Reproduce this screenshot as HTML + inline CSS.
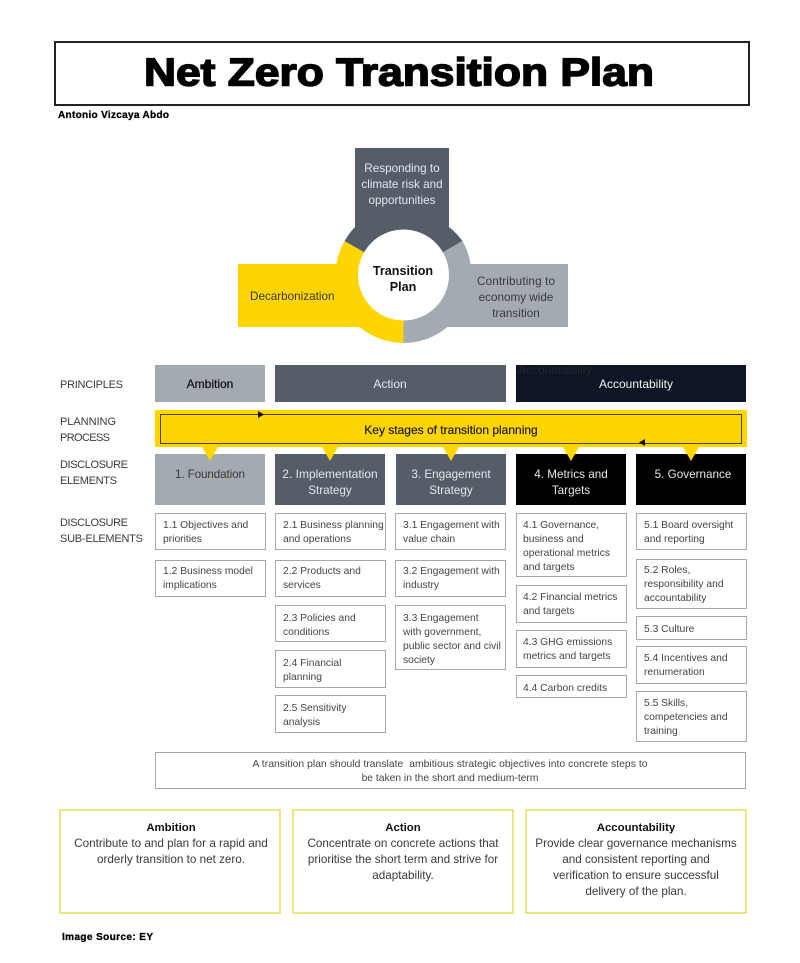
<!DOCTYPE html>
<html><head><meta charset="utf-8"><style>
html,body{margin:0;padding:0;background:#fff}
svg{display:block}
text{font-family:"Liberation Sans",sans-serif;fill:#3a3a3a}
.s{font-size:10.3px;fill:#444}
.m{font-size:11.7px}
.l{font-size:11px}
.c{text-anchor:middle}
.w{fill:#e4e6e9}
.h{font-weight:bold;fill:#111;font-size:11.4px}
.b{fill:#fff;stroke:#a8a8a8;stroke-width:1}
.y{fill:#fff;stroke:#ebe582;stroke-width:2}
.k{font-weight:bold;fill:#000;stroke:#000;stroke-width:.3px}
</style></head><body>
<svg width="800" height="963" viewBox="0 0 800 963" xmlns="http://www.w3.org/2000/svg">
<rect x="55" y="42" width="694" height="63" fill="#fff" stroke="#222" stroke-width="2"/>
<text x="399" y="85.500" class="c k" style="font-size:39px;stroke-width:1.5px" textLength="510" lengthAdjust="spacingAndGlyphs">Net Zero Transition Plan</text>
<text x="58" y="118" class="k" style="font-size:10px" textLength="111">Antonio Vizcaya Abdo</text>

<!-- cycle -->
<rect x="238" y="264" width="165" height="63" fill="#ffd500"/>
<rect x="403" y="264" width="165" height="63" fill="#a4aab1"/>
<path d="M403.5 275 L344.6 241 A68 68 0 0 0 403.5 343 Z" fill="#ffd500"/>
<path d="M403.5 275 L462.4 241 A68 68 0 0 1 403.5 343 Z" fill="#a4aab1"/>
<path d="M403.5 275 L344.6 241 A68 68 0 0 1 355 227 L355 148 L449 148 L449 227 A68 68 0 0 1 462.4 241 Z" fill="#555d69"/>
<circle cx="403.5" cy="275" r="45.5" fill="#fff"/>
<text x="402" y="172" class="m c w">Responding to</text>
<text x="402" y="188" class="m c w">climate risk and</text>
<text x="402" y="204" class="m c w">opportunities</text>
<text x="403" y="275" class="c h" style="font-size:12.6px">Transition</text>
<text x="403" y="291" class="c h" style="font-size:12.6px">Plan</text>
<text x="250" y="300" class="m">Decarbonization</text>
<text x="516" y="285" class="m c" textLength="78">Contributing to</text>
<text x="516" y="301" class="m c">economy wide</text>
<text x="516" y="317" class="m c">transition</text>

<!-- row labels -->
<text x="60" y="388" class="l" textLength="63">PRINCIPLES</text>
<text x="60" y="425" class="l" textLength="56">PLANNING</text>
<text x="60" y="441" class="l" textLength="50">PROCESS</text>
<text x="60" y="468" class="l" textLength="68">DISCLOSURE</text>
<text x="60" y="484" class="l" textLength="57">ELEMENTS</text>
<text x="60" y="526" class="l" textLength="68">DISCLOSURE</text>
<text x="60" y="542" class="l" textLength="83">SUB-ELEMENTS</text>

<!-- principles -->
<rect x="155" y="365" width="110" height="37" fill="#a4aab1"/>
<rect x="275" y="365" width="231" height="37" fill="#555d69"/>
<rect x="516" y="365" width="230" height="37" fill="#0e1525"/>
<text x="518" y="374" style="font-size:12px;fill:#23262e">Accountability</text>
<text x="210" y="388" class="c" style="font-size:12px;fill:#111;stroke:#111;stroke-width:.2px">Ambition</text>
<text x="390" y="388" class="c w" style="font-size:12px">Action</text>
<text x="636" y="388" class="c" style="font-size:12px;fill:#f2f2f2">Accountability</text>

<!-- elements -->
<rect x="155" y="454" width="110" height="51" fill="#a4aab1"/>
<rect x="275" y="454" width="110" height="51" fill="#555d69"/>
<rect x="396" y="454" width="110" height="51" fill="#555d69"/>
<rect x="516" y="454" width="110" height="51" fill="#000"/>
<rect x="636" y="454" width="110" height="51" fill="#000"/>

<!-- band -->
<rect x="155" y="410" width="592" height="37" fill="#ffd500"/>
<rect x="160.500" y="414.500" width="581" height="29" fill="none" stroke="#4a4208" stroke-width="1"/>
<path d="M258 411 L264 414.500 L258 418 Z" fill="#111"/>
<path d="M645 439 L639 442.500 L645 446 Z" fill="#111"/>
<g fill="#ffd500">
<path d="M202 447 L218 447 L210 461 Z"/>
<path d="M322 447 L338 447 L330 461 Z"/>
<path d="M443 447 L459 447 L451 461 Z"/>
<path d="M563 447 L579 447 L571 461 Z"/>
<path d="M683 447 L699 447 L691 461 Z"/>
</g>
<text x="451" y="434" class="c" style="font-size:12px;fill:#1c1a05;stroke:#1c1a05;stroke-width:.2px">Key stages of transition planning</text>

<text x="210" y="478" class="m c" textLength="70">1. Foundation</text>
<text x="330" y="478" class="c w" style="font-size:12px">2. Implementation</text>
<text x="330" y="494" class="m c w">Strategy</text>
<text x="451" y="478" class="m c w">3. Engagement</text>
<text x="451" y="494" class="m c w">Strategy</text>
<text x="571" y="478" class="m c w">4. Metrics and</text>
<text x="571" y="494" class="m c w">Targets</text>
<text x="693" y="478" class="m c w">5. Governance</text>

<!-- sub boxes -->
<rect class="b" x="155.500" y="513.500" width="110" height="36"/>
<rect class="b" x="155.500" y="560.500" width="110" height="36"/>
<rect class="b" x="275.500" y="513.500" width="110" height="36"/>
<rect class="b" x="275.500" y="560.500" width="110" height="36"/>
<rect class="b" x="275.500" y="605.500" width="110" height="36"/>
<rect class="b" x="275.500" y="650.500" width="110" height="37"/>
<rect class="b" x="275.500" y="695.500" width="110" height="37"/>
<rect class="b" x="395.500" y="513.500" width="110" height="36"/>
<rect class="b" x="395.500" y="560.500" width="110" height="36"/>
<rect class="b" x="395.500" y="605.500" width="110" height="64"/>
<rect class="b" x="516.500" y="513.500" width="110" height="63"/>
<rect class="b" x="516.500" y="585.500" width="110" height="37"/>
<rect class="b" x="516.500" y="630.500" width="110" height="37"/>
<rect class="b" x="516.500" y="675.500" width="110" height="22"/>
<rect class="b" x="636.500" y="513.500" width="110" height="36"/>
<rect class="b" x="636.500" y="559.500" width="110" height="49"/>
<rect class="b" x="636.500" y="616.500" width="110" height="23"/>
<rect class="b" x="636.500" y="646.500" width="110" height="37"/>
<rect class="b" x="636.500" y="691.500" width="110" height="50"/>

<text x="163" y="528" class="s">1.1 Objectives and</text>
<text x="163" y="542" class="s">priorities</text>
<text x="163" y="588" class="s">implications</text>
<text x="163" y="574" class="s">1.2 Business model</text>

<text x="283" y="528" class="s">2.1 Business planning</text>
<text x="283" y="542" class="s">and operations</text>
<text x="283" y="574" class="s">2.2 Products and</text>
<text x="283" y="588" class="s">services</text>
<text x="283" y="621" class="s">2.3 Policies and</text>
<text x="283" y="635" class="s">conditions</text>
<text x="283" y="666" class="s">2.4 Financial</text>
<text x="283" y="680" class="s">planning</text>
<text x="283" y="711" class="s">2.5 Sensitivity</text>
<text x="283" y="725" class="s">analysis</text>

<text x="403" y="528" class="s">3.1 Engagement with</text>
<text x="403" y="542" class="s">value chain</text>
<text x="403" y="574" class="s">3.2 Engagement with</text>
<text x="403" y="588" class="s">industry</text>
<text x="403" y="621" class="s">3.3 Engagement</text>
<text x="403" y="635" class="s">with government,</text>
<text x="403" y="649" class="s">public sector and civil</text>
<text x="403" y="663" class="s">society</text>

<text x="523" y="528" class="s">4.1 Governance,</text>
<text x="523" y="542" class="s">business and</text>
<text x="523" y="556" class="s">operational metrics</text>
<text x="523" y="570" class="s">and targets</text>
<text x="523" y="600" class="s">4.2 Financial metrics</text>
<text x="523" y="614" class="s">and targets</text>
<text x="523" y="645" class="s">4.3 GHG emissions</text>
<text x="523" y="659" class="s">metrics and targets</text>
<text x="523" y="691" class="s">4.4 Carbon credits</text>

<text x="644" y="528" class="s">5.1 Board oversight</text>
<text x="644" y="542" class="s">and reporting</text>
<text x="644" y="573" class="s">5.2 Roles,</text>
<text x="644" y="587" class="s">responsibility and</text>
<text x="644" y="601" class="s">accountability</text>
<text x="644" y="632" class="s">5.3 Culture</text>
<text x="644" y="661" class="s">5.4 Incentives and</text>
<text x="644" y="675" class="s">renumeration</text>
<text x="644" y="706" class="s">5.5 Skills,</text>
<text x="644" y="720" class="s">competencies and</text>
<text x="644" y="734" class="s">training</text>

<rect class="b" x="155.500" y="752.500" width="590" height="36"/>
<text x="450" y="767" class="s c" xml:space="preserve" textLength="395">A transition plan should translate  ambitious strategic objectives into concrete steps to</text>
<text x="450" y="781" class="s c">be taken in the short and medium-term</text>

<!-- bottom boxes -->
<rect class="y" x="60" y="810" width="220" height="103"/>
<rect class="y" x="293" y="810" width="220" height="103"/>
<rect class="y" x="526" y="810" width="220" height="103"/>
<text x="171" y="831" class="c h">Ambition</text>
<text x="171" y="847" class="m c">Contribute to and plan for a rapid and</text>
<text x="171" y="863" class="m c">orderly transition to net zero.</text>
<text x="403" y="831" class="c h">Action</text>
<text x="403" y="847" class="m c">Concentrate on concrete actions that</text>
<text x="403" y="863" class="m c">prioritise the short term and strive for</text>
<text x="403" y="879" class="m c">adaptability.</text>
<text x="636" y="831" class="c h">Accountability</text>
<text x="636" y="847" class="m c">Provide clear governance mechanisms</text>
<text x="636" y="863" class="m c">and consistent reporting and</text>
<text x="636" y="879" class="m c">verification to ensure successful</text>
<text x="636" y="895" class="m c">delivery of the plan.</text>

<text x="62" y="940" class="k" style="font-size:10px" textLength="91">Image Source: EY</text>
</svg>
</body></html>
